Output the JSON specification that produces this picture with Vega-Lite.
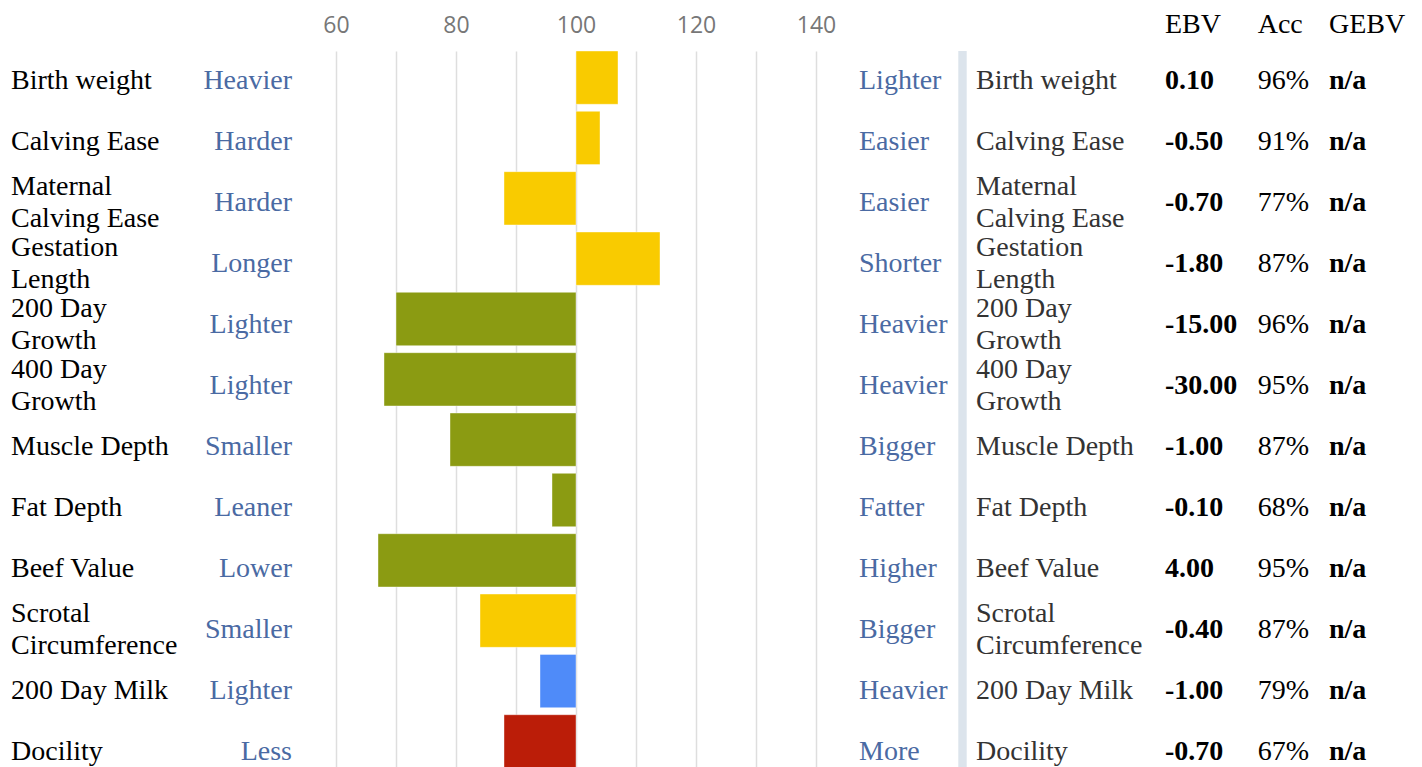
{
  "$schema": "https://vega.github.io/schema/vega-lite/v6.json",
  "background": "white",
  "padding": {"top": 11, "left": 0, "right": 0, "bottom": 0},
  "spacing": 0,
  "config": {"view": {"stroke": null}, "concat": {"spacing": 0}},
  "data": {"values": [
    {"name": "Birth weight", "low": "Heavier", "high": "Lighter", "index": 107, "cat": "Calving", "ebv": "0.10", "acc": "96%", "gebv": "n/a"},
    {"name": "Calving Ease", "low": "Harder", "high": "Easier", "index": 104, "cat": "Calving", "ebv": "-0.50", "acc": "91%", "gebv": "n/a"},
    {"name": "Maternal\nCalving Ease", "low": "Harder", "high": "Easier", "index": 88, "cat": "Calving", "ebv": "-0.70", "acc": "77%", "gebv": "n/a"},
    {"name": "Gestation\nLength", "low": "Longer", "high": "Shorter", "index": 114, "cat": "Calving", "ebv": "-1.80", "acc": "87%", "gebv": "n/a"},
    {"name": "200 Day\nGrowth", "low": "Lighter", "high": "Heavier", "index": 70, "cat": "Growth", "ebv": "-15.00", "acc": "96%", "gebv": "n/a"},
    {"name": "400 Day\nGrowth", "low": "Lighter", "high": "Heavier", "index": 68, "cat": "Growth", "ebv": "-30.00", "acc": "95%", "gebv": "n/a"},
    {"name": "Muscle Depth", "low": "Smaller", "high": "Bigger", "index": 79, "cat": "Growth", "ebv": "-1.00", "acc": "87%", "gebv": "n/a"},
    {"name": "Fat Depth", "low": "Leaner", "high": "Fatter", "index": 96, "cat": "Growth", "ebv": "-0.10", "acc": "68%", "gebv": "n/a"},
    {"name": "Beef Value", "low": "Lower", "high": "Higher", "index": 67, "cat": "Growth", "ebv": "4.00", "acc": "95%", "gebv": "n/a"},
    {"name": "Scrotal\nCircumference", "low": "Smaller", "high": "Bigger", "index": 84, "cat": "Calving", "ebv": "-0.40", "acc": "87%", "gebv": "n/a"},
    {"name": "200 Day Milk", "low": "Lighter", "high": "Heavier", "index": 94, "cat": "Milk", "ebv": "-1.00", "acc": "79%", "gebv": "n/a"},
    {"name": "Docility", "low": "Less", "high": "More", "index": 88, "cat": "Temperament", "ebv": "-0.70", "acc": "67%", "gebv": "n/a"}
  ]},
  "hconcat": [
    {
      "width": 190, "height": 731,
      "encoding": {
        "y": {"field": "name", "type": "nominal", "sort": ["Birth weight", "Calving Ease", "Maternal\nCalving Ease", "Gestation\nLength", "200 Day\nGrowth", "400 Day\nGrowth", "Muscle Depth", "Fat Depth", "Beef Value", "Scrotal\nCircumference", "200 Day Milk", "Docility"], "scale": {"paddingInner": 0.09, "paddingOuter": 0}, "axis": null},
        "x": {"value": 11},
        "text": {"field": "name"}
      },
      "layer": [
        {
          "transform": [{"filter": "indexof(datum.name, '\\n') < 0"}],
          "mark": {"type": "text", "align": "left", "baseline": "middle", "font": "Liberation Serif", "fontSize": 28, "color": "#000000"}
        },
        {
          "transform": [{"filter": "indexof(datum.name, '\\n') >= 0"}],
          "mark": {"type": "text", "align": "left", "baseline": "line-bottom", "font": "Liberation Serif", "fontSize": 28, "lineHeight": 32, "lineBreak": "\n", "color": "#000000"}
        }
      ]
    },
    {
      "width": 110, "height": 731,
      "mark": {"type": "text", "align": "right", "baseline": "middle", "font": "Liberation Serif", "fontSize": 28, "color": "#4a6aa3"},
      "encoding": {
        "y": {"field": "name", "type": "nominal", "sort": null, "scale": {"paddingInner": 0.09, "paddingOuter": 0}, "axis": null},
        "x": {"value": 102},
        "text": {"field": "low"}
      }
    },
    {
      "width": 552, "height": 717,
      "mark": {"type": "bar", "stroke": "#ffffff", "strokeOpacity": 0.4, "strokeWidth": 1},
      "encoding": {
        "y": {"field": "name", "type": "nominal", "sort": null, "scale": {"paddingInner": 0.117, "paddingOuter": 0}, "axis": null},
        "x": {"field": "index", "type": "quantitative", "scale": {"domain": [54, 146], "nice": false, "zero": false},
          "axis": {"orient": "top", "values": [60, 70, 80, 90, 100, 110, 120, 130, 140], "labelExpr": "datum.value % 20 === 0 ? datum.label : ''", "labelFlush": false, "domain": false, "ticks": false, "grid": true, "gridColor": "#dedede", "gridWidth": 1.5, "labelFont": "Open Sans", "labelFontSize": 23, "labelColor": "#777777", "labelPadding": 14, "title": null}},
        "x2": {"datum": 100},
        "color": {"field": "cat", "type": "nominal", "scale": {"domain": ["Calving", "Growth", "Milk", "Temperament"], "range": ["#f9cb00", "#8b9b12", "#4f8bf9", "#bb1d08"]}, "legend": null}
      }
    },
    {
      "width": 104, "height": 731,
      "mark": {"type": "text", "align": "left", "baseline": "middle", "font": "Liberation Serif", "fontSize": 28, "color": "#4a6aa3"},
      "encoding": {
        "y": {"field": "name", "type": "nominal", "sort": null, "scale": {"paddingInner": 0.09, "paddingOuter": 0}, "axis": null},
        "x": {"value": 7},
        "text": {"field": "high"}
      }
    },
    {
      "width": 12, "height": 731,
      "data": {"values": [{"part": "separator"}]},
      "mark": {"type": "rule", "color": "#dce4ec", "strokeWidth": 8.4},
      "encoding": {"x": {"value": 6.5}}
    },
    {
      "width": 188, "height": 731,
      "encoding": {
        "y": {"field": "name", "type": "nominal", "sort": ["Birth weight", "Calving Ease", "Maternal\nCalving Ease", "Gestation\nLength", "200 Day\nGrowth", "400 Day\nGrowth", "Muscle Depth", "Fat Depth", "Beef Value", "Scrotal\nCircumference", "200 Day Milk", "Docility"], "scale": {"paddingInner": 0.09, "paddingOuter": 0}, "axis": null},
        "x": {"value": 8},
        "text": {"field": "name"}
      },
      "layer": [
        {
          "transform": [{"filter": "indexof(datum.name, '\\n') < 0"}],
          "mark": {"type": "text", "align": "left", "baseline": "middle", "font": "Liberation Serif", "fontSize": 28, "color": "#333333"}
        },
        {
          "transform": [{"filter": "indexof(datum.name, '\\n') >= 0"}],
          "mark": {"type": "text", "align": "left", "baseline": "line-bottom", "font": "Liberation Serif", "fontSize": 28, "lineHeight": 32, "lineBreak": "\n", "color": "#333333"}
        }
      ]
    },
    {
      "width": 92, "height": 731,
      "title": {"text": "EBV", "anchor": "start", "dx": 9, "offset": 12, "font": "Liberation Serif", "fontSize": 28, "fontWeight": "normal", "color": "#000000"},
      "mark": {"type": "text", "align": "left", "baseline": "middle", "font": "Liberation Serif", "fontSize": 28, "fontWeight": "bold", "color": "#000000"},
      "encoding": {
        "y": {"field": "name", "type": "nominal", "sort": null, "scale": {"paddingInner": 0.09, "paddingOuter": 0}, "axis": null},
        "x": {"value": 9},
        "text": {"field": "ebv"}
      }
    },
    {
      "width": 72, "height": 731,
      "title": {"text": "Acc", "anchor": "start", "dx": 9.7, "offset": 12, "font": "Liberation Serif", "fontSize": 28, "fontWeight": "normal", "color": "#000000"},
      "mark": {"type": "text", "align": "left", "baseline": "middle", "font": "Liberation Serif", "fontSize": 28, "color": "#000000"},
      "encoding": {
        "y": {"field": "name", "type": "nominal", "sort": null, "scale": {"paddingInner": 0.09, "paddingOuter": 0}, "axis": null},
        "x": {"value": 9.7},
        "text": {"field": "acc"}
      }
    },
    {
      "width": 102, "height": 731,
      "title": {"text": "GEBV", "anchor": "start", "dx": 9, "offset": 12, "font": "Liberation Serif", "fontSize": 28, "fontWeight": "normal", "color": "#000000"},
      "mark": {"type": "text", "align": "left", "baseline": "middle", "font": "Liberation Serif", "fontSize": 28, "fontWeight": "bold", "color": "#000000"},
      "encoding": {
        "y": {"field": "name", "type": "nominal", "sort": null, "scale": {"paddingInner": 0.09, "paddingOuter": 0}, "axis": null},
        "x": {"value": 9},
        "text": {"field": "gebv"}
      }
    }
  ]
}
